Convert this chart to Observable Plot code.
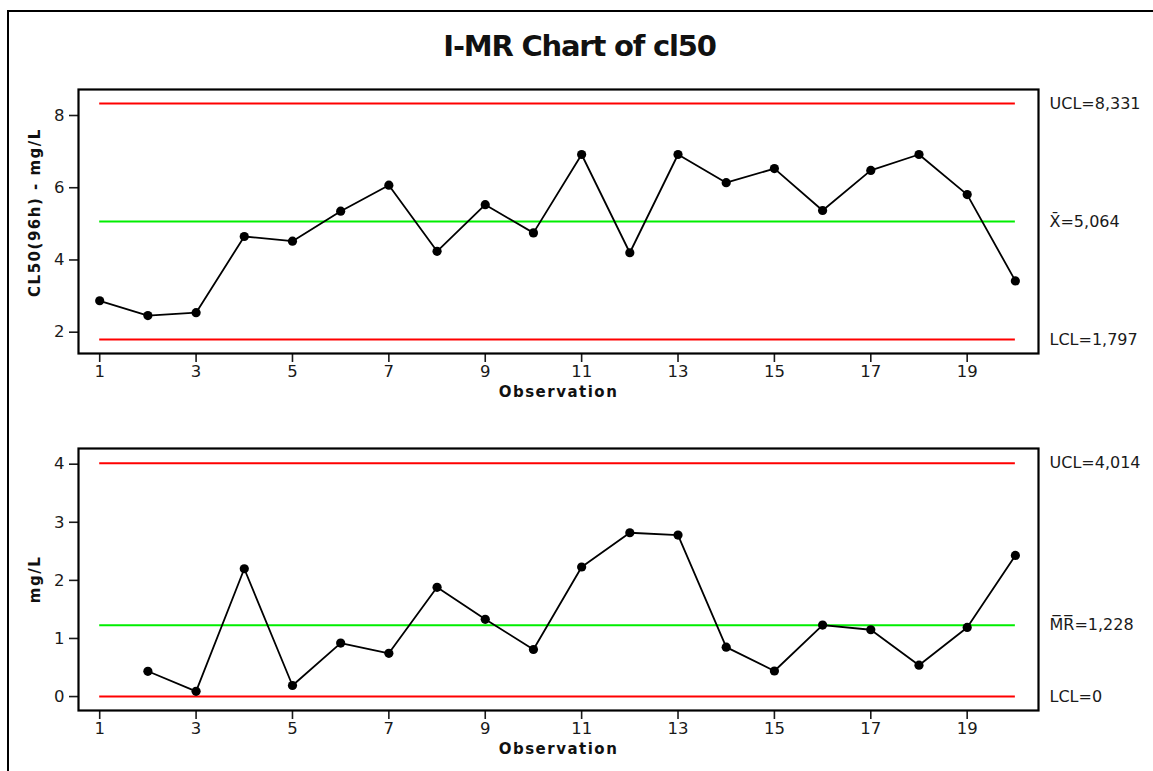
<!DOCTYPE html>
<html>
<head>
<meta charset="utf-8">
<script src="https://cdn.jsdelivr.net/npm/d3@7"></script>
<script src="https://cdn.jsdelivr.net/npm/@observablehq/plot@0.6"></script>
<style>
  html, body { margin: 0; padding: 0; background: #fff; }
  #wrap { position: relative; width: 1153px; height: 771px; overflow: hidden; background: #fff; font-family: "DejaVu Sans", sans-serif; }
  #outer { position: absolute; left: 7px; top: 10px; width: 1300px; height: 900px; border: 2px solid #000; box-sizing: border-box; }
  #title { position: absolute; left: 3px; top: 32px; width: 1153px; text-align: center; font: bold 29px/29px "DejaVu Sans", sans-serif; letter-spacing: -1.2px; color: #111; }
  .panel { position: absolute; left: 0; }
</style>
</head>
<body>
<div id="wrap">
  <div id="outer"></div>
  <div id="title">I-MR Chart of cl50</div>
  <div id="top" class="panel" style="top:0px"></div>
  <div id="bottom" class="panel" style="top:400px"></div>
</div>
<script>
// ---- data ----
const observation = [1,2,3,4,5,6,7,8,9,10,11,12,13,14,15,16,17,18,19,20];
const individualValues = [2.87, 2.46, 2.54, 4.65, 4.52, 5.35, 6.07, 4.24, 5.53, 4.75, 6.92, 4.20, 6.92, 6.14, 6.53, 5.37, 6.48, 6.92, 5.81, 3.42];
const movingRanges = [null, 0.435, 0.09, 2.20, 0.19, 0.92, 0.745, 1.88, 1.33, 0.81, 2.23, 2.82, 2.78, 0.85, 0.44, 1.23, 1.15, 0.54, 1.19, 2.43];
const xTicks = [1,3,5,7,9,11,13,15,17,19];
const topYTicks = [2,4,6,8];
const bottomYTicks = [0,1,2,3,4];
const topLimitValues = [8.331, 5.064, 1.797];
const topLimitLabels = ["UCL=8,331", "X\u0304=5,064", "LCL=1,797"];
const bottomLimitValues = [4.014, 1.228, 0];
const bottomLimitLabels = ["UCL=4,014", "M\u0305R\u0305=1,228", "LCL=0"];
const limitColors = ["#ff0000", "#00ee00", "#ff0000"];
const topYLabel = "CL50(96h) - mg/L";
const bottomYLabel = "mg/L";
const xLabel = "Observation";

const topRows = observation.map((o, i) => ({obs: o, value: individualValues[i]}));
const bottomRows = observation.map((o, i) => ({obs: o, value: movingRanges[i]})).filter(d => d.value != null);
const topLimits = topLimitValues.map((v, i) => ({value: v, label: topLimitLabels[i], color: limitColors[i]}));
const bottomLimits = bottomLimitValues.map((v, i) => ({value: v, label: bottomLimitLabels[i], color: limitColors[i]}));

function panel({height, marginTop, marginBottom, yDomain, yTicks, rows, limits, yLabel, yLabelDy}) {
  const svg = Plot.plot({
    width: 1153,
    height,
    marginTop,
    marginBottom,
    marginLeft: 78,
    marginRight: 115,
    x: {domain: [0.56, 20.48]},
    y: {domain: yDomain},
    style: {fontFamily: "DejaVu Sans, sans-serif", fontSize: "16px", color: "#1a1a1a", background: "transparent", overflow: "visible"},
    marks: [
      Plot.axisX({ticks: xTicks, tickSize: 9, tickPadding: 3, tickFormat: d => String(d), label: null, strokeWidth: 1.6, fontSize: 16.5}),
      Plot.axisY({ticks: yTicks, tickSize: 9, tickPadding: 5, tickFormat: d => String(d), label: null, strokeWidth: 1.6, fontSize: 16.5}),
      Plot.ruleY(limits, {y: "value", x1: () => observation[0], x2: () => observation[observation.length - 1], stroke: "color", strokeWidth: 2}),
      Plot.line(rows, {x: "obs", y: "value", stroke: "black", strokeWidth: 1.8}),
      Plot.dot(rows, {x: "obs", y: "value", r: 4.6, fill: "black", stroke: "none"}),
      Plot.frame({stroke: "black", strokeWidth: 2.2}),
      Plot.text(limits, {y: "value", text: "label", frameAnchor: "right", dx: 11, textAnchor: "start", fill: "#1a1a1a", fontSize: 16}),
      Plot.text([yLabel], {text: d => d, frameAnchor: "left", dx: -43, dy: yLabelDy, rotate: -90, textAnchor: "middle", fontWeight: "bold", fontSize: 15, fill: "#111"}),
      Plot.text([xLabel], {text: d => d, frameAnchor: "bottom", dy: 43, textAnchor: "middle", fontWeight: "bold", fontSize: 15, fill: "#111"})
    ]
  });
  d3.select(svg).selectAll("text").filter(function() {
    return this.textContent === xLabel || this.textContent === yLabel;
  }).attr("letter-spacing", "1.5px");
  d3.select(svg).selectAll('g[aria-label="x-axis tick label"], g[aria-label="y-axis tick label"]')
    .style("font-size", "16.5px").attr("fill", "#1a1a1a");
  return svg;
}

document.getElementById("top").appendChild(panel({
  height: 410, marginTop: 89, marginBottom: 57,
  yDomain: [1.41, 8.72], yTicks: topYTicks,
  rows: topRows, limits: topLimits, yLabel: topYLabel, yLabelDy: -9
}));
document.getElementById("bottom").appendChild(panel({
  height: 371, marginTop: 48, marginBottom: 61,
  yDomain: [-0.24, 4.27], yTicks: bottomYTicks,
  rows: bottomRows, limits: bottomLimits, yLabel: bottomYLabel, yLabelDy: 0
}));
</script>
</body>
</html>
